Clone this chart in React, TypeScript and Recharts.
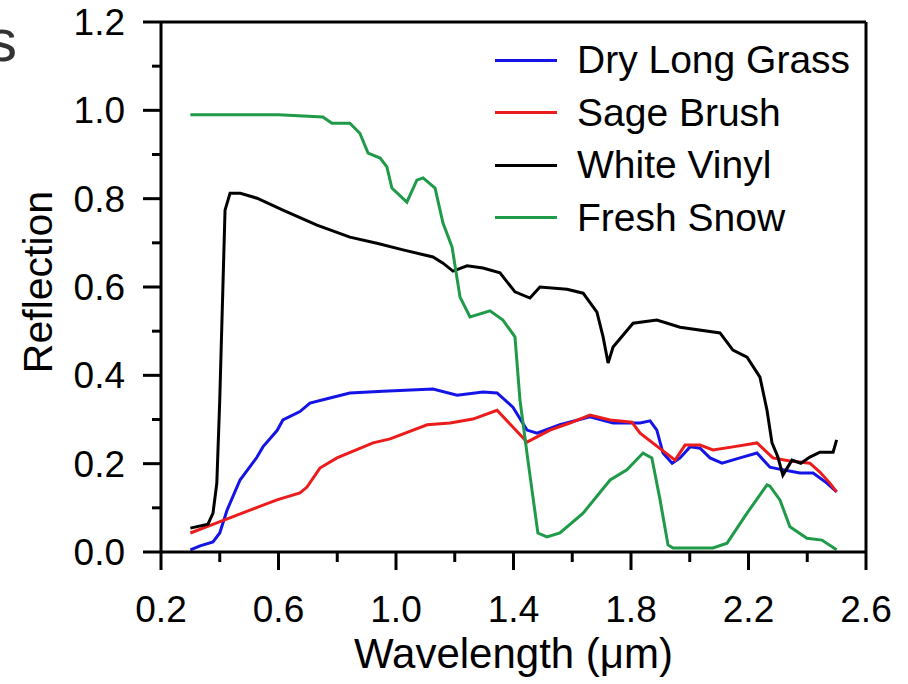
import React from "react";
import { LineChart, Line, XAxis, YAxis, ReferenceLine } from "recharts";

// wavelength (µm) / reflection pairs
const grassWave = [0.3, 0.333, 0.377, 0.4, 0.425, 0.469, 0.527, 0.547, 0.595, 0.615, 0.673, 0.707, 0.765, 0.843, 0.956, 1.126, 1.208, 1.296, 1.344, 1.398, 1.446, 1.48, 1.558, 1.66, 1.739, 1.831, 1.865, 1.888, 1.909, 1.94, 1.967, 2.001, 2.035, 2.069, 2.11, 2.171, 2.229, 2.273, 2.317, 2.375, 2.42, 2.467, 2.5];
const grassRefl = [0.005, 0.014, 0.023, 0.043, 0.095, 0.163, 0.215, 0.238, 0.275, 0.299, 0.318, 0.337, 0.347, 0.36, 0.364, 0.369, 0.355, 0.362, 0.36, 0.328, 0.276, 0.269, 0.288, 0.306, 0.292, 0.292, 0.297, 0.276, 0.224, 0.201, 0.213, 0.238, 0.235, 0.213, 0.201, 0.213, 0.224, 0.192, 0.186, 0.179, 0.179, 0.156, 0.136];

const sageWave = [0.3, 0.39, 0.503, 0.595, 0.673, 0.697, 0.741, 0.799, 0.922, 0.98, 1.106, 1.184, 1.262, 1.344, 1.446, 1.524, 1.592, 1.66, 1.729, 1.803, 1.831, 1.95, 1.984, 2.035, 2.079, 2.147, 2.229, 2.283, 2.341, 2.409, 2.443, 2.477, 2.5];
const sageRefl = [0.043, 0.066, 0.095, 0.118, 0.134, 0.147, 0.19, 0.213, 0.247, 0.256, 0.288, 0.292, 0.301, 0.321, 0.249, 0.276, 0.292, 0.31, 0.299, 0.294, 0.269, 0.208, 0.242, 0.242, 0.231, 0.238, 0.247, 0.213, 0.206, 0.201, 0.181, 0.156, 0.136];

const vinylWave = [0.3, 0.36, 0.377, 0.39, 0.4, 0.418, 0.435, 0.47, 0.527, 0.615, 0.731, 0.843, 0.935, 1.024, 1.126, 1.16, 1.194, 1.242, 1.296, 1.354, 1.405, 1.456, 1.49, 1.582, 1.637, 1.684, 1.705, 1.722, 1.739, 1.807, 1.888, 1.967, 2.103, 2.147, 2.195, 2.239, 2.263, 2.28, 2.3, 2.317, 2.348, 2.378, 2.409, 2.443, 2.488, 2.5];
const vinylRefl = [0.054, 0.063, 0.088, 0.156, 0.344, 0.774, 0.812, 0.812, 0.801, 0.774, 0.74, 0.713, 0.699, 0.684, 0.668, 0.654, 0.636, 0.648, 0.643, 0.632, 0.589, 0.575, 0.6, 0.595, 0.586, 0.543, 0.487, 0.428, 0.464, 0.518, 0.525, 0.509, 0.496, 0.457, 0.441, 0.396, 0.321, 0.247, 0.215, 0.174, 0.208, 0.201, 0.215, 0.226, 0.226, 0.254];

const snowWave = [0.3, 0.6, 0.751, 0.782, 0.843, 0.877, 0.905, 0.946, 0.969, 0.986, 1.037, 1.071, 1.092, 1.133, 1.16, 1.191, 1.218, 1.252, 1.32, 1.364, 1.405, 1.422, 1.449, 1.483, 1.514, 1.558, 1.637, 1.729, 1.786, 1.841, 1.871, 1.899, 1.926, 1.943, 2.079, 2.127, 2.195, 2.263, 2.273, 2.307, 2.341, 2.399, 2.45, 2.5];
const snowRefl = [0.99, 0.99, 0.985, 0.971, 0.971, 0.948, 0.903, 0.892, 0.872, 0.824, 0.792, 0.842, 0.847, 0.824, 0.745, 0.69, 0.577, 0.532, 0.546, 0.525, 0.487, 0.344, 0.208, 0.043, 0.034, 0.043, 0.088, 0.163, 0.186, 0.224, 0.213, 0.118, 0.016, 0.009, 0.009, 0.02, 0.088, 0.152, 0.149, 0.118, 0.057, 0.031, 0.027, 0.005];

const xTicks = [0.2, 0.4, 0.6, 0.8, 1.0, 1.2, 1.4, 1.6, 1.8, 2.0, 2.2, 2.4, 2.6];
const yTicks = [0, 0.1, 0.2, 0.3, 0.4, 0.5, 0.6, 0.7, 0.8, 0.9, 1.0, 1.1, 1.2];

const series = [
  { name: "Dry Long Grass", color: "#1414e6", wave: grassWave, refl: grassRefl },
  { name: "Sage Brush", color: "#ec1c1c", wave: sageWave, refl: sageRefl },
  { name: "White Vinyl", color: "#000000", wave: vinylWave, refl: vinylRefl },
  { name: "Fresh Snow", color: "#1f9a48", wave: snowWave, refl: snowRefl },
];

const FONT = "'Liberation Sans', Arial, Helvetica, sans-serif";

function XTick({ x, y, payload }: any) {
  const major = Math.round(payload.value * 10) % 4 === 2;
  return (
    <g>
      <line x1={x} y1={y} x2={x} y2={y + (major ? 18 : 10)} stroke="#000" strokeWidth={3} />
      {major && (
        <text x={x} y={y + 70} textAnchor="middle" fontSize={37} fontFamily={FONT} fill="#000">
          {payload.value.toFixed(1)}
        </text>
      )}
    </g>
  );
}

function YTick({ x, y, payload }: any) {
  const major = Math.round(payload.value * 10) % 2 === 0;
  return (
    <g>
      <line x1={x} y1={y} x2={x - (major ? 18 : 9)} y2={y} stroke="#000" strokeWidth={3} />
      {major && (
        <text x={x - 36} y={y + 13} textAnchor="end" fontSize={37} fontFamily={FONT} fill="#000">
          {payload.value.toFixed(1)}
        </text>
      )}
    </g>
  );
}

function LegendBox() {
  return (
    <div style={{ position: "absolute", left: 495, top: 34, fontFamily: FONT }}>
      {series.map((s) => (
        <div key={s.name} style={{ display: "flex", alignItems: "center", height: 52.5 }}>
          <div style={{ width: 62, height: 3, background: s.color, marginRight: 20 }} />
          <span style={{ fontSize: 39, color: "#000", whiteSpace: "nowrap" }}>{s.name}</span>
        </div>
      ))}
    </div>
  );
}

export default function App() {
  return (
    <div style={{ position: "absolute", left: 0, top: 0, width: 908, height: 684, background: "#fff", overflow: "hidden" }}>
      <span
        style={{ position: "absolute", left: -13, top: 11, fontSize: 60, lineHeight: "60px", color: "#333", fontFamily: FONT }}
      >
        s
      </span>
      <LineChart width={908} height={684} margin={{ top: 22, right: 42, bottom: 0, left: 0 }}>
        <XAxis
          type="number"
          dataKey="x"
          domain={[0.2, 2.6]}
          ticks={xTicks}
          interval={0}
          height={132}
          tickSize={0}
          tickMargin={0}
          tickLine={false}
          axisLine={{ stroke: "#000", strokeWidth: 3 }}
          tick={<XTick />}
          label={{ value: "Wavelength (\u03bcm)", position: "insideBottom", offset: 16, fontSize: 42, fill: "#000", fontFamily: FONT }}
        />
        <YAxis
          type="number"
          domain={[0, 1.2]}
          ticks={yTicks}
          interval={0}
          width={161}
          tickSize={0}
          tickMargin={0}
          tickLine={false}
          axisLine={{ stroke: "#000", strokeWidth: 3 }}
          tick={<YTick />}
          label={({ viewBox }: any) => (
            <text
              x={52}
              y={viewBox.y + viewBox.height / 2 - 5}
              transform={`rotate(-90, 52, ${viewBox.y + viewBox.height / 2 - 5})`}
              textAnchor="middle"
              fontSize={41}
              fontFamily={FONT}
              fill="#000"
            >
              Reflection
            </text>
          )}
        />
        <ReferenceLine y={1.2} stroke="#000" strokeWidth={3} />
        <ReferenceLine x={2.6} stroke="#000" strokeWidth={3} />
        {series.map((s) => (
          <Line
            key={s.name}
            name={s.name}
            data={s.wave.map((w, i) => ({ x: w, y: s.refl[i] }))}
            dataKey="y"
            type="linear"
            stroke={s.color}
            strokeWidth={3}
            dot={false}
            activeDot={false}
            isAnimationActive={false}
          />
        ))}
      </LineChart>
      <LegendBox />
    </div>
  );
}
